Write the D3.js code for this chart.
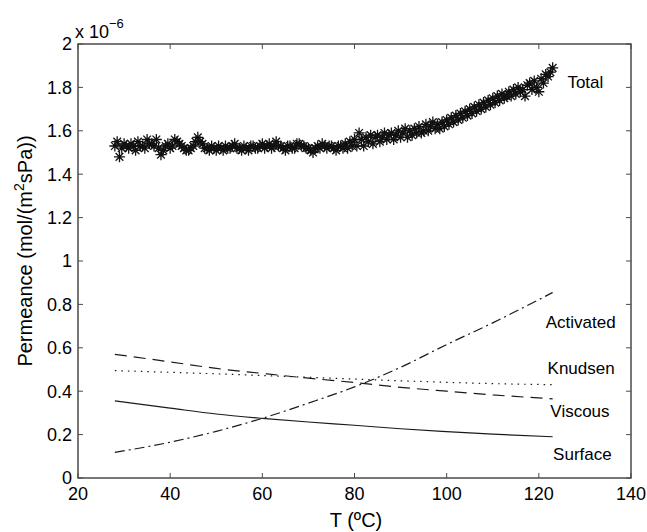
<!DOCTYPE html>
<html><head><meta charset="utf-8">
<script src="https://cdn.jsdelivr.net/npm/d3@7"></script>
<style>body{margin:0;background:#fff}svg{display:block;font-family:"Liberation Sans",Arial,sans-serif}</style>
</head><body><svg id="c" width="647" height="532"></svg>
<script>
const totalT = d3.range(28, 123.25, 0.5);
const totalV = [
1.53,1.55,1.48,1.52,1.54,1.53,1.52,1.54,1.53,1.51,1.55,1.53,1.53,1.52,1.56,1.54,1.54,1.53,1.56,1.52,
1.49,1.51,1.53,1.54,1.52,1.53,1.56,1.55,1.54,1.53,1.52,1.51,1.51,1.52,1.53,1.55,1.57,1.55,1.54,1.52,
1.52,1.51,1.53,1.52,1.51,1.53,1.52,1.51,1.53,1.52,1.52,1.53,1.54,1.52,1.52,1.51,1.53,1.52,1.51,1.53,
1.53,1.52,1.52,1.53,1.54,1.52,1.53,1.54,1.52,1.53,1.55,1.53,1.53,1.52,1.51,1.53,1.53,1.52,1.52,1.54,
1.54,1.53,1.53,1.52,1.52,1.51,1.50,1.52,1.53,1.52,1.54,1.53,1.52,1.53,1.53,1.52,1.51,1.53,1.53,1.52,
1.54,1.52,1.55,1.53,1.56,1.53,1.59,1.56,1.53,1.57,1.55,1.58,1.54,1.57,1.58,1.55,1.57,1.59,1.56,1.58,
1.59,1.56,1.58,1.60,1.57,1.59,1.61,1.57,1.60,1.58,1.61,1.59,1.62,1.59,1.60,1.63,1.60,1.62,1.64,1.61,
1.63,1.61,1.64,1.62,1.65,1.63,1.66,1.64,1.67,1.65,1.68,1.66,1.69,1.67,1.70,1.68,1.71,1.69,1.72,1.70,
1.73,1.71,1.74,1.72,1.75,1.73,1.76,1.74,1.77,1.75,1.76,1.78,1.76,1.79,1.77,1.80,1.78,1.79,1.76,1.81,
1.82,1.79,1.83,1.80,1.78,1.84,1.82,1.86,1.85,1.87,1.89];
const lineT = [28,40,50,60,70,80,90,100,110,123];
const surfaceV  = [0.355,0.322,0.295,0.275,0.258,0.243,0.227,0.214,0.202,0.190];
const viscousV  = [0.570,0.535,0.505,0.482,0.460,0.440,0.418,0.400,0.383,0.365];
const knudsenV  = [0.495,0.487,0.480,0.472,0.464,0.456,0.448,0.441,0.435,0.430];
const activatedV= [0.118,0.165,0.215,0.275,0.345,0.420,0.510,0.615,0.715,0.855];
const xTicks = [20,40,60,80,100,120,140];
const yTicks = [0,0.2,0.4,0.6,0.8,1,1.2,1.4,1.6,1.8,2];
const labels = [
  {name:"Total", x:126.2, y:1.825},
  {name:"Activated", x:121.5, y:0.72},
  {name:"Knudsen", x:121.9, y:0.507},
  {name:"Viscous", x:122.5, y:0.31},
  {name:"Surface", x:123.1, y:0.11}
];

const svg = d3.select("#c");
const L=78, R=631, T=44, B=478;
const x = d3.scaleLinear().domain([20,140]).range([L,R]);
const y = d3.scaleLinear().domain([0,2]).range([B,T]);
const axisCol="#4a4a4a";

const mk = vals => d3.line().x((d,i)=>x(lineT[i])).y(d=>y(d)).curve(d3.curveMonotoneX)(vals);
const styles = [
  {v:surfaceV, dash:null},
  {v:viscousV, dash:"12,7"},
  {v:knudsenV, dash:"1.5,5"},
  {v:activatedV, dash:"10,4,2,4"}
];
styles.forEach(s=>{
  svg.append("path").attr("d",mk(s.v)).attr("fill","none").attr("stroke","#1a1a1a")
    .attr("stroke-width",1.2).attr("stroke-dasharray",s.dash);
});

const r=5.5;
const star = `M${-r},0L${r},0M0,${-r}L0,${r}M${-r*0.7},${-r*0.7}L${r*0.7},${r*0.7}M${-r*0.7},${r*0.7}L${r*0.7},${-r*0.7}`;
svg.append("g").selectAll("path").data(totalV).join("path")
  .attr("transform",(d,i)=>`translate(${x(totalT[i])},${y(d)})`)
  .attr("d",star).attr("stroke","#111").attr("stroke-width",1.3).attr("fill","none");

const tl=5;
const g = svg.append("g");
g.append("rect").attr("x",L).attr("y",T).attr("width",R-L).attr("height",B-T)
  .attr("fill","none").attr("stroke",axisCol).attr("stroke-width",1.5);
xTicks.forEach(t=>{
  g.append("line").attr("x1",x(t)).attr("x2",x(t)).attr("y1",B).attr("y2",B-tl).attr("stroke",axisCol);
  g.append("line").attr("x1",x(t)).attr("x2",x(t)).attr("y1",T).attr("y2",T+tl).attr("stroke",axisCol);
  g.append("text").attr("x",x(t)).attr("y",500).attr("text-anchor","middle").attr("font-size",18).text(t);
});
yTicks.forEach(t=>{
  g.append("line").attr("x1",L).attr("x2",L+tl).attr("y1",y(t)).attr("y2",y(t)).attr("stroke",axisCol);
  g.append("line").attr("x1",R).attr("x2",R-tl).attr("y1",y(t)).attr("y2",y(t)).attr("stroke",axisCol);
  g.append("text").attr("x",72).attr("y",y(t)).attr("dy","0.35em").attr("text-anchor","end").attr("font-size",18)
    .text(d3.format("~g")(t));
});
const ex = g.append("text").attr("x",75).attr("y",38).attr("font-size",18);
ex.append("tspan").text("x 10");
ex.append("tspan").attr("dy",-10).attr("font-size",13).text("−6");

svg.append("text").attr("x",356).attr("y",527).attr("text-anchor","middle").attr("font-size",20).text("T (ºC)");
const yl = svg.append("text").attr("transform","translate(32,251) rotate(-90)").attr("text-anchor","middle").attr("font-size",20);
yl.append("tspan").text("Permeance (mol/(m");
yl.append("tspan").attr("dy",-8).attr("font-size",14).text("2");
yl.append("tspan").attr("dy",8).text("sPa))");

svg.append("g").selectAll("text").data(labels).join("text")
  .attr("x",d=>x(d.x)).attr("y",d=>y(d.y)).attr("dy","0.35em").attr("font-size",17).text(d=>d.name);
</script></body></html>
